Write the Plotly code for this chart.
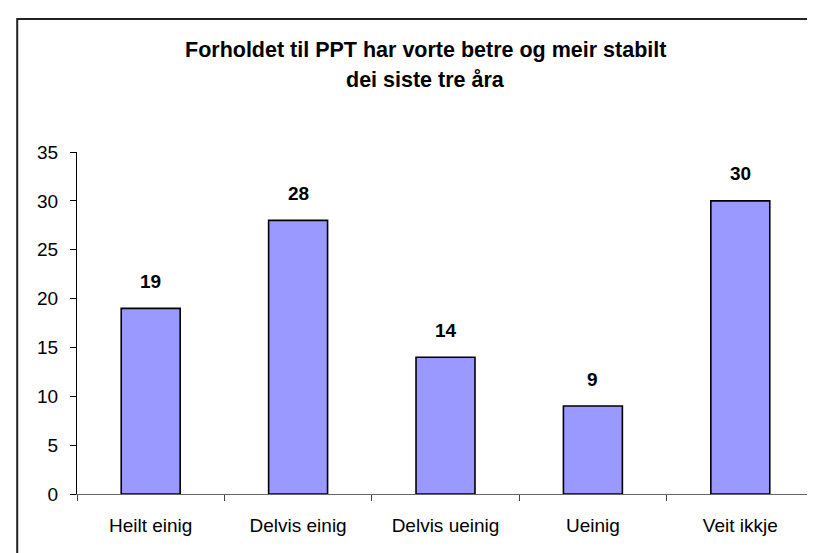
import plotly.graph_objects as go

categories = ["Heilt einig", "Delvis einig", "Delvis ueinig", "Ueinig", "Veit ikkje"]
values = [19, 28, 14, 9, 30]
y_ticks = [0, 5, 10, 15, 20, 25, 30, 35]
title_lines = ["Forholdet til PPT har vorte betre og meir stabilt", "dei siste tre åra"]

FONT = "Liberation Sans, Arial, sans-serif"

fig = go.Figure()
fig.add_trace(go.Bar(
    x=categories, y=values,
    marker=dict(color="#9999FF", line=dict(color="#000000", width=1.6)),
    width=0.4,
    hoverinfo="skip",
))

for c, v in zip(categories, values):
    fig.add_annotation(x=c, y=v, text=f"<b>{v}</b>", showarrow=False,
                       yanchor="middle", yshift=27,
                       font=dict(family=FONT, size=19, color="#000000"))

# title as two lines
fig.add_annotation(xref="paper", yref="paper", x=(418 - 69.3) / 737.2, y=(486.5 - 41.5) / 342.5,
                   text=f"<b>{title_lines[0]}</b>", showarrow=False, xanchor="center", yanchor="middle",
                   font=dict(family=FONT, size=21.5, color="#000000"))
fig.add_annotation(xref="paper", yref="paper", x=(418 - 69.3) / 737.2, y=(486.5 - 71.5) / 342.5,
                   text=f"<b>{title_lines[1]}</b>", showarrow=False, xanchor="center", yanchor="middle",
                   font=dict(family=FONT, size=21.5, color="#000000"))

# chart-area border (cropped at right and bottom)
fig.add_shape(type="rect", xref="paper", yref="paper",
              x0=(9.5 - 69.3) / 737.2, x1=1.2,
              y0=-0.4, y1=(486.5 - 10.7) / 342.5,
              line=dict(color="#222222", width=2), fillcolor="rgba(0,0,0,0)", layer="below")

fig.update_layout(
    width=815, height=553,
    margin=dict(l=69.3, r=8.5, t=144, b=66.5, autoexpand=False),
    paper_bgcolor="#FFFFFF", plot_bgcolor="#FFFFFF",
    showlegend=False,
    bargap=0.6,
    font=dict(family=FONT, size=19, color="#000000"),
)
fig.update_xaxes(
    type="category",
    showline=True, linecolor="#666666", linewidth=1.2,
    ticks="outside", tickson="boundaries", ticklen=6, tickcolor="#444444", tickwidth=1,
    showgrid=False, zeroline=False,
    tickfont=dict(family=FONT, size=19, color="#000000"),
    ticklabelstandoff=14,
)
fig.update_yaxes(
    range=[0, 35], tickvals=y_ticks, ticktext=[str(t) for t in y_ticks],
    showline=True, linecolor="#000000", linewidth=1.2,
    ticks="outside", ticklen=6, tickcolor="#000000", tickwidth=1,
    showgrid=False, zeroline=False,
    tickfont=dict(family=FONT, size=19, color="#000000"),
    ticklabelstandoff=8,
)

fig.write_html("out.html")
